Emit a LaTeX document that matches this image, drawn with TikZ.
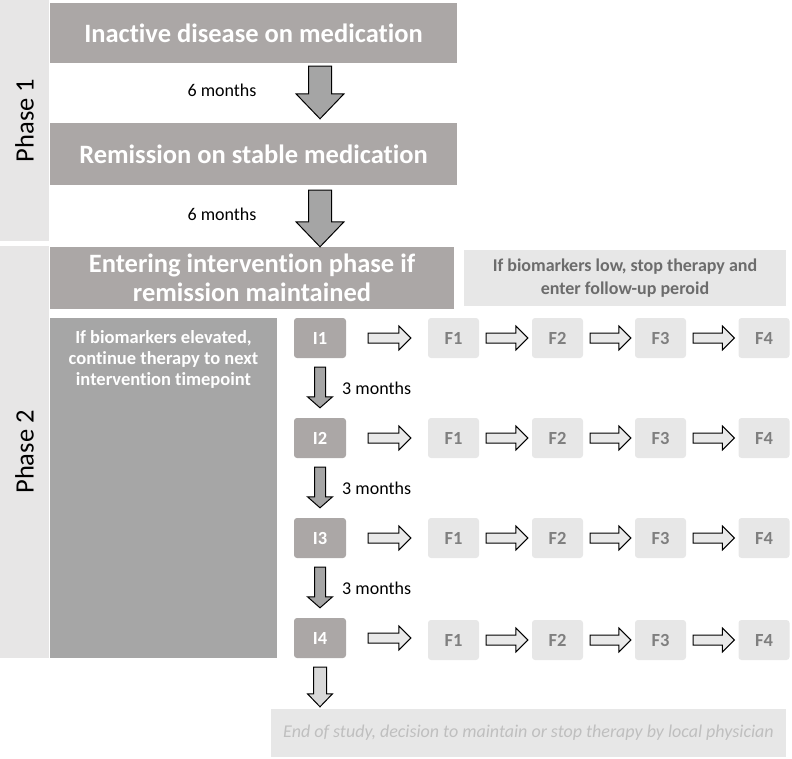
\documentclass[tikz,border=0pt]{standalone}
\usepackage{fontspec}
\setmainfont{Carlito}[Ligatures=NoCommon]
\usetikzlibrary{calc}
\definecolor{boxgray}{RGB}{171,167,166}
\definecolor{elevgray}{RGB}{166,166,166}
\definecolor{phasegray}{RGB}{231,230,230}
\definecolor{palegray}{RGB}{231,231,231}
\definecolor{ftext}{RGB}{127,127,127}
\definecolor{endtext}{RGB}{191,191,191}
\definecolor{arrowgray}{RGB}{165,165,165}
\definecolor{arrowpale}{RGB}{233,233,233}
\definecolor{arrowlight}{RGB}{217,217,217}

\begin{document}
\begin{tikzpicture}[x=1pt,y=1pt,
    phasebar/.style={fill=phasegray, rotate=90, font=\fontsize{26.5}{30}\selectfont},
    stepbox/.style={fill=boxgray, text=white, align=center, font=\fontsize{26.5}{29}\selectfont\bfseries},
    lowbox/.style={fill=palegray, text=ftext!85!black, align=center, font=\fontsize{18}{23}\selectfont\bfseries},
    elevbox/.style={fill=elevgray},
    elevtext/.style={text=white, align=center, font=\fontsize{18.5}{21}\selectfont\bfseries},
    ibox/.style={fill=boxgray, rounded corners=3pt, minimum width=52pt, minimum height=40pt, text=white, font=\fontsize{18.5}{20}\selectfont\bfseries},
    fupbox/.style={fill=palegray, rounded corners=3pt, minimum width=51pt, minimum height=40pt, text=ftext, font=\fontsize{18.5}{20}\selectfont\bfseries},
    endbox/.style={fill=palegray, text=endtext, font=\fontsize{18}{20}\selectfont\itshape},
    months/.style={font=\fontsize{18}{20}\selectfont},
    downarr/.style n args={3}{draw=black, line width=1pt, to path={let \p1=(\tikztostart), \p2=(\tikztotarget) in
      (\x1-#1,\y1) -- (\x1+#1,\y1) -- (\x1+#1,\y2+#3) -- (\x1+#2,\y2+#3) -- (\x1,\y2)
      -- (\x1-#2,\y2+#3) -- (\x1-#1,\y2+#3) -- cycle}},
    bigdown/.style={fill=arrowgray, downarr={11.5pt}{24pt}{25pt}},
    smalldown/.style={fill=arrowgray, downarr={5.5pt}{12.5pt}{11pt}},
    paledown/.style={fill=arrowlight, downarr={6.5pt}{12.5pt}{13pt}},
    rightarr/.style={draw=black, fill=arrowpale, line width=1pt, to path={let \p1=(\tikztostart), \p2=(\tikztotarget) in
      (\x1,\y1-5pt) -- (\x2-12pt,\y1-5pt) -- (\x2-12pt,\y1-12pt) -- (\x2,\y1)
      -- (\x2-12pt,\y1+12pt) -- (\x2-12pt,\y1+5pt) -- (\x1,\y1+5pt) -- cycle}}]
    \tikzstyle{every node}+=[inner sep=0pt]
    \useasboundingbox (0,0) rectangle (792,-759);
    % phases
    \node[phasebar, minimum width=241pt, minimum height=49pt] (phase1) at (24.5,-120.5) {Phase 1};
    \node[phasebar, minimum width=412pt, minimum height=49pt] (phase2) at (24.5,-452) {Phase 2};
    % phase 1 steps
    \node[stepbox, minimum width=407pt, minimum height=60pt] (inactive) at (253.5,-33) {Inactive disease on medication};
    \node[stepbox, minimum width=407pt, minimum height=62pt] (remission) at (253.5,-154) {Remission on stable medication};
    \node[stepbox, minimum width=404pt, minimum height=62pt] (entering) at (252,-278) {Entering intervention phase if\\remission maintained};
    \node[lowbox, minimum width=322pt, minimum height=56pt] (biolow) at (625,-278) {If biomarkers low, stop therapy and\\enter follow-up peroid};
    \node[elevbox, minimum width=227pt, minimum height=340pt] (bioelev) at (163.5,-488) {};
    \node[elevtext, anchor=north] (bioelevtext) at ($(bioelev.north)+(0,-13)$) {If biomarkers elevated,\\continue therapy to next\\intervention timepoint};
    % intervention timepoints
    \node[ibox] (I1) at (320,-338) {I1};
    \node[ibox] (I2) at (320,-438) {I2};
    \node[ibox] (I3) at (320,-538) {I3};
    \node[ibox] (I4) at (320,-638) {I4};
    % follow-up
    \node[fupbox] (F11) at (453.5,-338) {F1};
    \node[fupbox] (F12) at (557.5,-338) {F2};
    \node[fupbox] (F13) at (660.5,-338) {F3};
    \node[fupbox] (F14) at (764,-338) {F4};
    \node[fupbox] (F21) at (453.5,-438) {F1};
    \node[fupbox] (F22) at (557.5,-438) {F2};
    \node[fupbox] (F23) at (660.5,-438) {F3};
    \node[fupbox] (F24) at (764,-438) {F4};
    \node[fupbox] (F31) at (453.5,-538) {F1};
    \node[fupbox] (F32) at (557.5,-538) {F2};
    \node[fupbox] (F33) at (660.5,-538) {F3};
    \node[fupbox] (F34) at (764,-538) {F4};
    \node[fupbox] (F41) at (453.5,-640) {F1};
    \node[fupbox] (F42) at (557.5,-640) {F2};
    \node[fupbox] (F43) at (660.5,-640) {F3};
    \node[fupbox] (F44) at (764,-640) {F4};
    \node[endbox, minimum width=515pt, minimum height=48pt] (endstudy) at (528.5,-733) {End of study, decision to maintain or stop therapy by local physician};
    % time labels
    \node[months] (m6a) at (222,-90) {6 months};
    \node[months] (m6b) at (222,-214) {6 months};
    \node[months, anchor=west] (m3a) at ($(I1.south)!0.5!(I2.north)+(22,0)$) {3 months};
    \node[months, anchor=west] (m3b) at ($(I2.south)!0.5!(I3.north)+(22,0)$) {3 months};
    \node[months, anchor=west] (m3c) at ($(I3.south)!0.5!(I4.north)+(22,0)$) {3 months};
    % block arrows
    \draw[bigdown] ($(inactive.south -| I1)+(0,-3)$) to ($(remission.north -| I1)+(0,4)$);
    \draw[bigdown] ($(remission.south -| I1)+(0,-5)$) to (entering.north -| I1);
    \draw[smalldown] ($(I1.south)+(0,-9)$) to ($(I2.north)+(0,10)$);
    \draw[smalldown] ($(I2.south)+(0,-9)$) to ($(I3.north)+(0,10)$);
    \draw[smalldown] ($(I3.south)+(0,-9)$) to ($(I4.north)+(0,10)$);
    \draw[paledown] ($(I4.south)+(0,-9)$) to ($(I4.south |- endstudy.north)+(0,2)$);
    \draw[rightarr] ($(I1.east)+(22,0)$) to ($(F11.west)+(-17,0)$);
    \draw[rightarr] ($(F11.east)+(7,0)$) to ($(F12.west)+(-4,0)$);
    \draw[rightarr] ($(F12.east)+(7,0)$) to ($(F13.west)+(-4,0)$);
    \draw[rightarr] ($(F13.east)+(7,0)$) to ($(F14.west)+(-4,0)$);
    \draw[rightarr] ($(I2.east)+(22,0)$) to ($(F21.west)+(-17,0)$);
    \draw[rightarr] ($(F21.east)+(7,0)$) to ($(F22.west)+(-4,0)$);
    \draw[rightarr] ($(F22.east)+(7,0)$) to ($(F23.west)+(-4,0)$);
    \draw[rightarr] ($(F23.east)+(7,0)$) to ($(F24.west)+(-4,0)$);
    \draw[rightarr] ($(I3.east)+(22,0)$) to ($(F31.west)+(-17,0)$);
    \draw[rightarr] ($(F31.east)+(7,0)$) to ($(F32.west)+(-4,0)$);
    \draw[rightarr] ($(F32.east)+(7,0)$) to ($(F33.west)+(-4,0)$);
    \draw[rightarr] ($(F33.east)+(7,0)$) to ($(F34.west)+(-4,0)$);
    \draw[rightarr] ($(I4.east)+(22,0)$) to ($(F41.west)+(-17,0)$);
    \draw[rightarr] ($(F41.east)+(7,0)$) to ($(F42.west)+(-4,0)$);
    \draw[rightarr] ($(F42.east)+(7,0)$) to ($(F43.west)+(-4,0)$);
    \draw[rightarr] ($(F43.east)+(7,0)$) to ($(F44.west)+(-4,0)$);
\end{tikzpicture}
\end{document}
